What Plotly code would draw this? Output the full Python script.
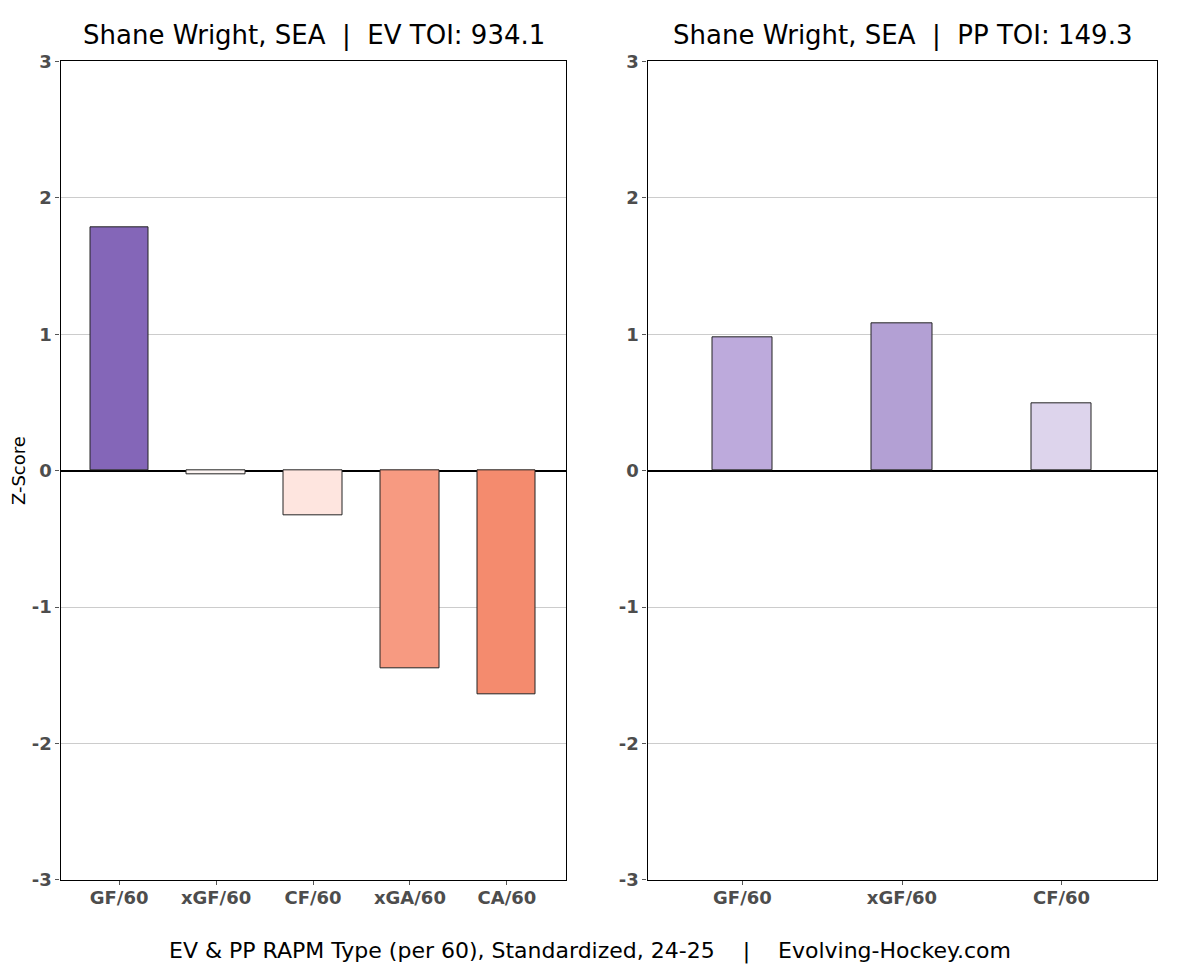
import plotly.graph_objects as go

ev_cats = ["GF/60", "xGF/60", "CF/60", "xGA/60", "CA/60"]
ev_vals = [1.78, -0.03, -0.33, -1.45, -1.64]
ev_colors = ["#8466b8", "#fdf5f3", "#fee5df", "#f79a81", "#f48b6e"]

pp_cats = ["GF/60", "xGF/60", "CF/60"]
pp_vals = [0.98, 1.08, 0.49]
pp_colors = ["#bdaadc", "#b3a0d4", "#ddd4ec"]

y_ticks = [-3, -2, -1, 0, 1, 2, 3]
y_ticktext = ["-3", "-2", "-1", "0", "1", "2", "3"]

W, H = 1180, 972
ev_title = "Shane Wright, SEA  |  EV TOI: 934.1"
pp_title = "Shane Wright, SEA  |  PP TOI: 149.3"
caption = "EV & PP RAPM Type (per 60), Standardized, 24-25    |    Evolving-Hockey.com"

fig = go.Figure()
fig.add_trace(go.Bar(x=ev_cats, y=ev_vals, width=0.6,
                     marker=dict(color=ev_colors, line=dict(color="#222222", width=1)),
                     xaxis="x", yaxis="y", showlegend=False))
fig.add_trace(go.Bar(x=pp_cats, y=pp_vals, width=0.38,
                     marker=dict(color=pp_colors, line=dict(color="#222222", width=1)),
                     xaxis="x2", yaxis="y2", showlegend=False))

ybot = 0.0947
ytop = 0.9555
boldtick = dict(family="DejaVu Sans", size=18, color="#4d4d4d", weight="bold")

common_x = dict(showline=True, linecolor="black", linewidth=1.2, mirror=True,
                ticks="outside", ticklen=4, tickcolor="#555555", ticklabelstandoff=-3,
                tickfont=boldtick, showgrid=False, fixedrange=True)
common_y = dict(range=[-3, 3], tickvals=y_ticks, ticktext=y_ticktext,
                showline=True, linecolor="black", linewidth=1.2, mirror=True,
                ticks="outside", ticklen=4, tickcolor="#555555",
                tickfont=boldtick, showgrid=True, gridcolor="#cccccc", gridwidth=1,
                zeroline=True, zerolinecolor="black", zerolinewidth=1.5)

fig.update_layout(
    width=W, height=H,
    margin=dict(l=0, r=0, t=0, b=0),
    paper_bgcolor="white", plot_bgcolor="white",
    font=dict(family="DejaVu Sans", color="black"),
    xaxis=dict(domain=[52.5 / W, 557.5 / W], range=[-0.605, 4.605], anchor="y", **common_x),
    yaxis=dict(domain=[ybot, ytop], anchor="x",
               title=dict(text="Z-Score", font=dict(family="DejaVu Sans", size=18, color="black"),
                          standoff=6),
               **common_y),
    xaxis2=dict(domain=[639.5 / W, 1148.5 / W], range=[-0.595, 2.595], anchor="y2", **common_x),
    yaxis2=dict(domain=[ybot, ytop], anchor="x2", **common_y),
    bargap=0,
    annotations=[
        dict(text=ev_title, x=306 / W, y=0.983, xref="paper", yref="paper",
             showarrow=False, font=dict(family="DejaVu Sans", size=26, color="black"),
             xanchor="center", yanchor="middle"),
        dict(text=pp_title, x=894 / W, y=0.983, xref="paper", yref="paper",
             showarrow=False, font=dict(family="DejaVu Sans", size=26, color="black"),
             xanchor="center", yanchor="middle"),
        dict(text=caption, x=582 / W, y=0.020,
             xref="paper", yref="paper", showarrow=False,
             font=dict(family="DejaVu Sans", size=22, color="black"),
             xanchor="center", yanchor="middle"),
    ],
)

fig.write_html("out.html")
